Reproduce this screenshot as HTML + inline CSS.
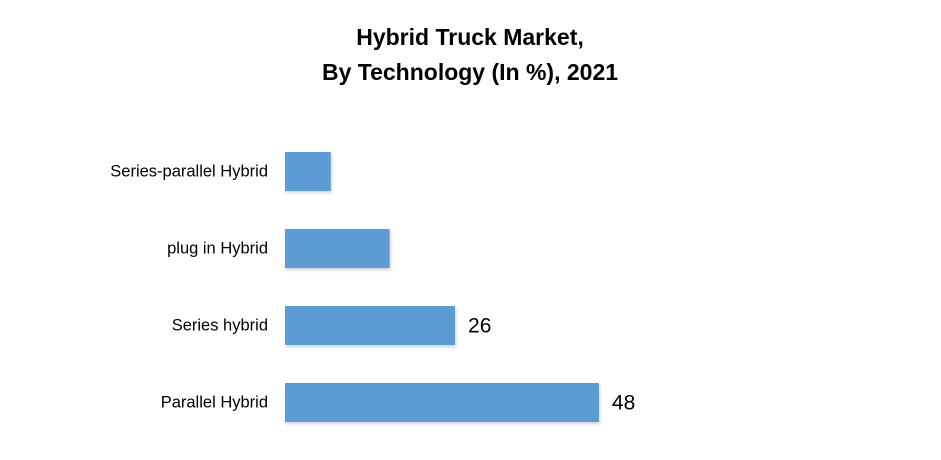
<!DOCTYPE html>
<html><head><meta charset="utf-8"><style>
body{margin:0;background:#fff;width:941px;height:455px;overflow:hidden;font-family:"Liberation Sans",sans-serif;}
</style></head><body>
<svg width="941" height="455" id="c">
<defs><filter id="sh" x="-5%" y="-20%" width="110%" height="150%"><feDropShadow dx="1" dy="2" stdDeviation="1.5" flood-color="#000" flood-opacity="0.18"/></filter></defs>
<text x="470" y="45" text-anchor="middle" font-size="23" font-weight="bold" fill="#000">Hybrid Truck Market,</text>
<text x="470" y="80" text-anchor="middle" font-size="23" font-weight="bold" fill="#000">By Technology (In %), 2021</text>
<g id="bars"></g>
</svg>
<script>
const categories=["Series-parallel Hybrid","plug in Hybrid","Series hybrid","Parallel Hybrid"];
const values=[7,16,26,48];
const labels=["","","26","48"];
const x0=285, scale=6.54, y0=152, pitch=77, bh=39;
const xs=v=>x0+v*scale;
const g=document.getElementById('bars');
const NS="http://www.w3.org/2000/svg";
categories.forEach((c,i)=>{
  const y=y0+i*pitch;
  const r=document.createElementNS(NS,'rect');
  r.setAttribute('x',x0);r.setAttribute('y',y);r.setAttribute('width',xs(values[i])-x0);r.setAttribute('height',bh);
  r.setAttribute('fill','#5b9bd5');r.setAttribute('filter','url(#sh)');
  
  
  g.appendChild(r);
  const t=document.createElementNS(NS,'text');
  t.setAttribute('x',268);t.setAttribute('y',y+bh/2+5);t.setAttribute('text-anchor','end');t.setAttribute('font-size','16.5');
  t.textContent=c;
  
  
  g.appendChild(t);
  if(labels[i]){
    const l=document.createElementNS(NS,'text');
    l.setAttribute('x',xs(values[i])+13);l.setAttribute('y',y+bh/2+7);l.setAttribute('font-size','21');
    l.textContent=labels[i];
    
    
    g.appendChild(l);
  }
});
</script>
</body></html>
